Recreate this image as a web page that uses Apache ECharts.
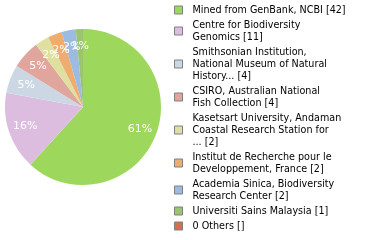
<!DOCTYPE html>
<html><head><meta charset="utf-8">
<script src="https://cdn.jsdelivr.net/npm/echarts@6/dist/echarts.min.js"></script>
<style>html,body{margin:0;padding:0;background:#fff}#c{width:380px;height:240px}</style>
</head><body><div id="c"></div>
<script>
var categories = [
  "Mined from GenBank, NCBI",
  "Centre for Biodiversity\nGenomics",
  "Smithsonian Institution,\nNational Museum of Natural\nHistory...",
  "CSIRO, Australian National\nFish Collection",
  "Kasetsart University, Andaman\nCoastal Research Station for\n...",
  "Institut de Recherche pour le\nDeveloppement, France",
  "Academia Sinica, Biodiversity\nResearch Center",
  "Universiti Sains Malaysia",
  "0 Others"
];
var counts = [42, 11, 4, 4, 2, 2, 2, 1, 0];
var colors = ["#9dd85c", "#dcbddf", "#cbd8e4", "#e0a59c", "#dfe09f", "#eeac6e", "#9dbbe0", "#9cc46e", "#d86c4f"];

var data = categories.map(function (c, i) { return { name: c, value: counts[i] }; });
var chart = echarts.init(document.getElementById('c'));
chart.setOption({
  animation: false,
  color: colors,
  legend: {
    orient: 'vertical', left: 174, top: 4, height: 236, padding: 0,
    itemWidth: 8, itemHeight: 8, itemGap: 3,
    icon: 'rect',
    itemStyle: { borderColor: '#808080', borderWidth: 1 },
    textStyle: { fontFamily: 'DejaVu Sans', fontSize: 9.6, color: '#000', lineHeight: 12, padding: [0, 0, 0, 5] },
    formatter: function (name) {
      var i = categories.indexOf(name);
      return name + ' [' + (counts[i] ? counts[i] : '') + ']';
    },
    data: categories
  },
  series: [{
    type: 'pie', center: [83, 107], radius: [0, 78],
    startAngle: 90, clockwise: true,
    label: { show: false }, labelLine: { show: false },
    itemStyle: { borderWidth: 0 },
    emphasis: { disabled: true },
    data: data
  }, {
    type: 'pie', center: [83, 107], radius: [38, 78],
    startAngle: 90, clockwise: true, silent: true,
    avoidLabelOverlap: false,
    labelLayout: { hideOverlap: false },
    itemStyle: { color: 'transparent' },
    label: {
      show: true, position: 'inside', color: '#fff',
      fontFamily: 'DejaVu Sans', fontSize: 11,
      formatter: function (p) { return p.value > 0 ? Math.floor(p.percent) + '%' : ''; }
    },
    labelLine: { show: false },
    data: data
  }]
});
</script></body></html>
